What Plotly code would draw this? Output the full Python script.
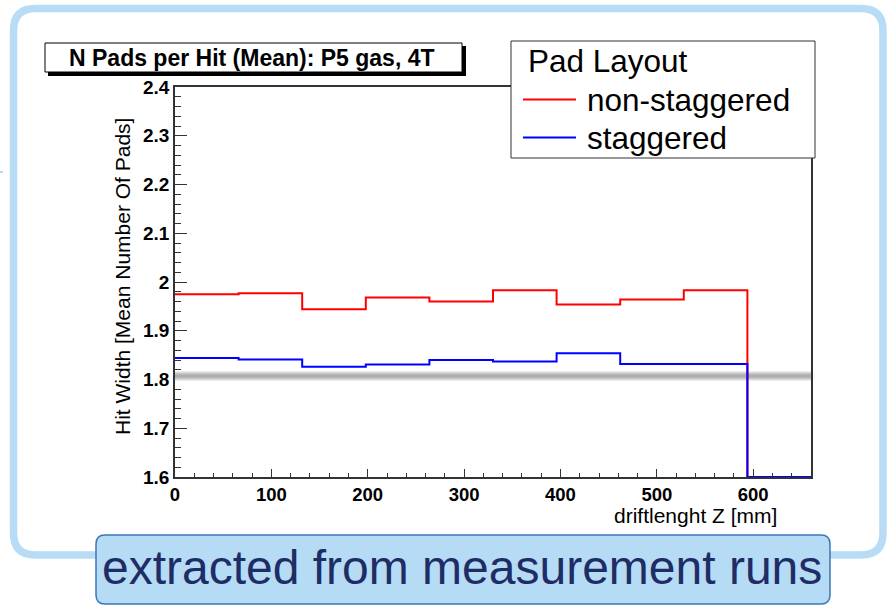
import plotly.graph_objects as go

# --- histogram data: mean number of pads per hit vs drift length ---
bin_edges = [0, 66, 132, 198, 264, 330, 396, 462, 528, 594, 660]
non_staggered = [1.975, 1.977, 1.944, 1.968, 1.960, 1.983, 1.954, 1.964, 1.983, 0.0]
staggered = [1.844, 1.841, 1.826, 1.831, 1.840, 1.837, 1.854, 1.832, 1.832, 0.0]
reference_level = 1.807

y_tick_values = [1.6, 1.7, 1.8, 1.9, 2.0, 2.1, 2.2, 2.3, 2.4]
y_tick_labels = ["1.6", "1.7", "1.8", "1.9", "2", "2.1", "2.2", "2.3", "2.4"]
x_tick_values = [0, 100, 200, 300, 400, 500, 600]
x_tick_labels = ["0", "100", "200", "300", "400", "500", "600"]

Y_MIN, Y_MAX = 1.6, 2.4
X_MIN, X_MAX = 0, 660

# canvas / frame geometry (pixels)
W, H = 890, 605
L, R, T, B = 175, 811, 87, 477
FONT = "Liberation Sans"


def px(x):
    return (x - L) / (R - L)


def py(y):
    return (B - y) / (B - T)


def step_y(values):
    # ROOT-style: bins below the axis minimum are drawn on the frame floor
    vals = [max(v, Y_MIN) for v in values]
    return vals + [vals[-1]]


fig = go.Figure()

# soft grey reference band
for width, color in [(9, "#dcdcdc"), (6, "#c4c4c4"), (3, "#adadad")]:
    fig.add_trace(go.Scatter(
        x=[X_MIN, X_MAX], y=[reference_level, reference_level],
        mode="lines", line=dict(color=color, width=width),
        hoverinfo="skip", showlegend=False))

fig.add_trace(go.Scatter(
    x=bin_edges, y=step_y(non_staggered), mode="lines", line_shape="hv",
    line=dict(color="#ff0000", width=2), name="non-staggered", showlegend=False))
fig.add_trace(go.Scatter(
    x=bin_edges, y=step_y(staggered), mode="lines", line_shape="hv",
    line=dict(color="#0000ff", width=2), name="staggered", showlegend=False))

axis_common = dict(
    showgrid=False, zeroline=False, showline=True, linecolor="#333333",
    linewidth=1.5, mirror=True, ticks="inside", tickcolor="#333333",
    tickwidth=1.2, layer="below traces",
)

fig.update_xaxes(
    range=[X_MIN, X_MAX], tickvals=x_tick_values, ticktext=x_tick_labels,
    ticklen=8, minor=dict(dtick=20, ticks="inside", ticklen=4,
                          tickcolor="#333333", tickwidth=1.2),
    tickfont=dict(family=FONT, size=18.5, color="black", weight="bold"),
    **axis_common)
fig.update_yaxes(
    range=[Y_MIN, Y_MAX], tickvals=y_tick_values, ticktext=y_tick_labels,
    ticklen=12, minor=dict(dtick=0.02, ticks="inside", ticklen=6,
                           tickcolor="#333333", tickwidth=1.2),
    tickfont=dict(family=FONT, size=19, color="black", weight="bold"),
    **axis_common)

shapes = []
annotations = []

# outer rounded slide frame
fx0, fy0, fx1, fy1, rr = 13.5, 8.5, 883, 555, 22


def rounded_path(x0, y0, x1, y1, r):
    pts = [
        f"M {px(x0 + r)} {py(y0)}",
        f"L {px(x1 - r)} {py(y0)}",
        f"Q {px(x1)} {py(y0)} {px(x1)} {py(y0 + r)}",
        f"L {px(x1)} {py(y1 - r)}",
        f"Q {px(x1)} {py(y1)} {px(x1 - r)} {py(y1)}",
        f"L {px(x0 + r)} {py(y1)}",
        f"Q {px(x0)} {py(y1)} {px(x0)} {py(y1 - r)}",
        f"L {px(x0)} {py(y0 + r)}",
        f"Q {px(x0)} {py(y0)} {px(x0 + r)} {py(y0)}",
        "Z",
    ]
    return " ".join(pts)


shapes.append(dict(type="path", xref="paper", yref="paper",
                   path=rounded_path(fx0, fy0, fx1, fy1, rr),
                   line=dict(color="#b8dcf5", width=7.5), layer="below"))
shapes.append(dict(type="line", xref="paper", yref="paper",
                   x0=px(0), x1=px(3), y0=py(172), y1=py(172),
                   line=dict(color="#b8dcf5", width=2), layer="below"))

# caption box at the bottom
shapes.append(dict(type="path", xref="paper", yref="paper",
                   path=rounded_path(96, 535, 830, 604, 9),
                   fillcolor="#b6dbf5", line=dict(color="#3a78b5", width=1.5),
                   layer="above"))
annotations.append(dict(
    xref="paper", yref="paper", x=px(462), y=py(567), xanchor="center",
    yanchor="middle", showarrow=False, text="extracted from measurement runs",
    font=dict(family=FONT, size=48, color="#1e2d66")))

# title box with drop shadow
shapes.append(dict(type="rect", xref="paper", yref="paper",
                   x0=px(48), x1=px(466), y0=py(46), y1=py(76),
                   fillcolor="black", line=dict(width=0), layer="above"))
shapes.append(dict(type="rect", xref="paper", yref="paper",
                   x0=px(45), x1=px(462), y0=py(43), y1=py(72),
                   fillcolor="white", line=dict(color="black", width=1),
                   layer="above"))
annotations.append(dict(
    xref="paper", yref="paper", x=px(252), y=py(58), xanchor="center",
    yanchor="middle", showarrow=False,
    text="N Pads per Hit (Mean): P5 gas, 4T",
    font=dict(family=FONT, size=23, color="black", weight="bold")))

# legend box
shapes.append(dict(type="rect", xref="paper", yref="paper",
                   x0=px(511), x1=px(815), y0=py(41), y1=py(158),
                   fillcolor="white", line=dict(color="#333333", width=1),
                   layer="above"))
annotations.append(dict(
    xref="paper", yref="paper", x=px(526), y=py(61), xanchor="left",
    yanchor="middle", showarrow=False, text="Pad Layout",
    font=dict(family=FONT, size=31.5, color="black")))
legend_entries = [("non-staggered", "#ff0000", 99.5), ("staggered", "#0000ff", 137.5)]
for label, color, ypix in legend_entries:
    shapes.append(dict(type="line", xref="paper", yref="paper",
                       x0=px(523), x1=px(576), y0=py(ypix), y1=py(ypix),
                       line=dict(color=color, width=2), layer="above"))
    annotations.append(dict(
        xref="paper", yref="paper", x=px(585), y=py(ypix), xanchor="left",
        yanchor="middle", showarrow=False, text=label,
        font=dict(family=FONT, size=31.5, color="black")))

# axis titles
annotations.append(dict(
    xref="paper", yref="paper", x=px(122), y=py(277), xanchor="center",
    yanchor="middle", showarrow=False, textangle=-90,
    text="Hit Width [Mean Number Of Pads]",
    font=dict(family=FONT, size=21, color="black")))
annotations.append(dict(
    xref="paper", yref="paper", x=px(779), y=py(515), xanchor="right",
    yanchor="middle", showarrow=False, text="driftlenght Z [mm]",
    font=dict(family=FONT, size=21, color="black")))

fig.update_layout(
    width=W, height=H, autosize=False,
    margin=dict(l=L, r=W - R, t=T, b=H - B, pad=0),
    paper_bgcolor="white", plot_bgcolor="white",
    shapes=shapes, annotations=annotations, showlegend=False,
)

fig.write_html("out.html")
